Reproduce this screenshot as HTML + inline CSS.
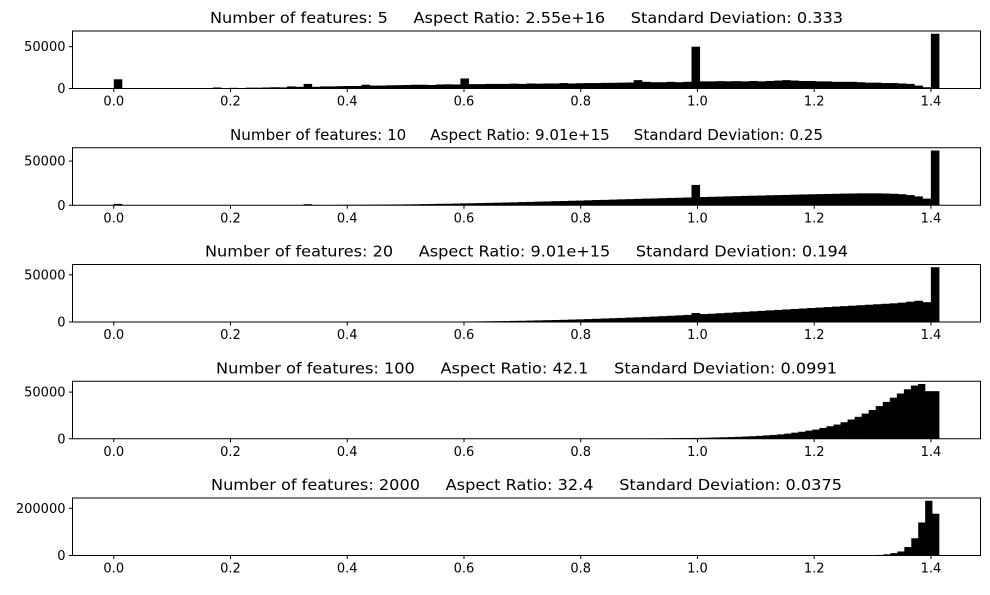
<!DOCTYPE html>
<html><head><meta charset="utf-8"><style>
body{margin:0;background:#fff}
svg text{font-family:"DejaVu Sans","Liberation Sans",sans-serif;fill:#000}
.pre{white-space:pre}
</style></head><body>
<svg id="chart" width="990" height="590" xmlns="http://www.w3.org/2000/svg"></svg>
<script>
const titles=["Number of features: 5     Aspect Ratio: 2.55e+16     Standard Deviation: 0.333",
"Number of features: 10     Aspect Ratio: 9.01e+15     Standard Deviation: 0.25",
"Number of features: 20     Aspect Ratio: 9.01e+15     Standard Deviation: 0.194",
"Number of features: 100     Aspect Ratio: 42.1     Standard Deviation: 0.0991",
"Number of features: 2000     Aspect Ratio: 32.4     Standard Deviation: 0.0375"];
const titleWidths=[633,593,643,621,631];
const xTicks=[0.0,0.2,0.4,0.6,0.8,1.0,1.2,1.4];
const yTicks=[[0,50000],[0,50000],[0,50000],[0,50000],[0,200000]];
const binStart=[0,0,0,0.9195,1.283];
const binWidth=[0.01414,0.01414,0.01414,0.01206,0.0119];
const counts1=[11000,0,0,0,0,0,0,0,0,0,0,0,1200,0,800,300,1000,1000,1200,1500,1300,2500,2000,5500,2000,2500,2500,2800,3000,3000,4500,3500,3500,3800,4000,4200,4500,4500,4200,4800,5000,4800,12000,5200,5200,5500,5500,5500,5800,5500,6000,5800,6000,6000,6500,6000,6300,6500,6500,6800,6800,7000,7200,10000,8000,7500,7500,8000,7500,8000,50000,8500,8500,8800,8600,8800,8500,9000,8500,9000,9500,10000,9500,9000,9000,8500,8500,8000,8000,8000,7500,7000,7000,6500,6500,6000,5500,3500,1500,65500];
const counts2=[1500,0,0,0,0,0,0,0,0,0,0,0,0,0,0,0,0,0,0,0,0,0,0,1200,0,200,300,400,500,500,600,700,700,800,900,1000,1100,1300,1400,1600,1700,1900,2100,2300,2500,2700,2900,3100,3300,3600,3800,4100,4300,4600,4800,5100,5300,5600,5900,6100,6400,6700,6900,7200,7500,7700,8000,8300,8500,8800,23000,9300,9600,9800,10100,10300,10600,10800,11000,11300,11500,11700,12000,12200,12400,12600,12800,13000,13200,13300,13500,13500,13500,13300,13000,12500,11500,10000,7500,62000];
const counts3=[0,0,0,0,0,0,0,0,0,0,0,0,0,0,0,0,0,0,0,0,0,0,0,0,0,0,0,0,0,0,0,0,0,0,0,0,0,0,0,0,0,0,500,600,700,800,900,1000,1200,1300,1500,1700,1900,2100,2300,2600,2800,3100,3400,3700,4000,4300,4700,5000,5400,5800,6200,6600,7000,7500,9500,8400,8800,9300,9800,10300,10800,11300,11800,12300,12800,13300,13800,14300,14800,15300,15800,16300,16800,17300,17800,18300,18800,19300,19800,20500,21500,22500,21000,58000];
const counts4=[300,400,500,600,700,800,900,1000,1200,1400,1600,1800,2100,2400,2700,3100,3600,4100,4700,5500,6500,7500,8700,9800,11600,13400,15200,17700,20600,23500,27000,30800,35000,39500,44000,48500,53000,57000,58700,51000,51000];
const counts5=[1500,2000,2500,5000,10000,17000,36000,73000,140000,232000,177000];
const allCounts=[counts1,counts2,counts3,counts4,counts5];

const NS="http://www.w3.org/2000/svg";
const svg=document.getElementById('chart');
function mk(tag,attrs,parent){const e=document.createElementNS(NS,tag);for(const k in attrs)e.setAttribute(k,attrs[k]);(parent||svg).appendChild(e);return e;}
const L=72.5,R=980.5,XMIN=-0.0707,XMAX=1.4849;
const xs=v=>L+(v-XMIN)/(XMAX-XMIN)*(R-L);
for(let p=0;p<5;p++){
  const top=31+p*116.75, bot=top+57.5;
  const c=allCounts[p];
  const ymax=Math.max(...c)*1.05;
  const ys=v=>bot-v/ymax*(bot-top);
  const g=mk('g',{});
  
  
  const t=mk('text',{x:526.5,y:top-8,'text-anchor':'middle','font-size':'15','class':'pre',textLength:titleWidths[p],lengthAdjust:'spacingAndGlyphs'},g);
  t.textContent=titles[p];
  
  
  for(let i=0;i<c.length;i++){
    if(c[i]<=0)continue;
    const x0=xs(binStart[p]+i*binWidth[p]),x1=xs(binStart[p]+(i+1)*binWidth[p]);
    const r=mk('rect',{x:x0,y:ys(c[i]),width:x1-x0+0.3,height:bot-ys(c[i]),fill:'#000'},g);
    
    
  }
  const f=mk('rect',{x:L,y:top,width:R-L,height:bot-top,fill:'none',stroke:'#000','stroke-width':1},g);
  
  
  xTicks.forEach(v=>{
    mk('line',{x1:xs(v),x2:xs(v),y1:bot,y2:bot+3.5,stroke:'#000'},g);
    const tl=mk('text',{x:xs(v),y:bot+17,'text-anchor':'middle','font-size':'13'},g);
    tl.textContent=v.toFixed(1);
    
    
  });
  yTicks[p].forEach(v=>{
    mk('line',{x1:L-3.5,x2:L,y1:ys(v),y2:ys(v),stroke:'#000'},g);
    const tl=mk('text',{x:L-7,y:ys(v)+4.5,'text-anchor':'end','font-size':'13'},g);
    tl.textContent=String(v);
    
    
  });
}
</script>
</body></html>
